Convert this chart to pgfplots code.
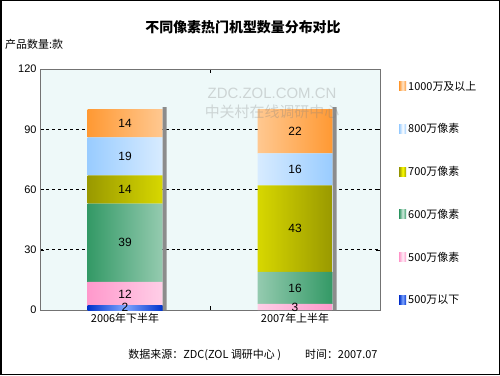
\documentclass[border=0pt]{standalone}
\usepackage{pgfplots}
\pgfplotsset{compat=1.18}
\usepackage{fontspec}
\setmainfont{Liberation Sans}
\newfontfamily\cjk{Noto Sans CJK SC}
\definecolor{cBlueE}{HTML}{0033CC}\definecolor{cBlueM}{HTML}{7FA6FF}
\definecolor{cPinkE}{HTML}{FF99CC}\definecolor{cPinkM}{HTML}{FFF0F8}
\definecolor{cGreenE}{HTML}{339966}\definecolor{cGreenM}{HTML}{D2EADE}
\definecolor{cYelE}{HTML}{999900}\definecolor{cYelM}{HTML}{FFFF00}
\definecolor{cLbE}{HTML}{99CCFF}\definecolor{cLbM}{HTML}{FFFFFF}
\definecolor{cOrE}{HTML}{FF9933}\definecolor{cOrM}{HTML}{FFE6CC}
\definecolor{bgc}{HTML}{EEF9F9}
\begin{document}
\begin{tikzpicture}[x=1bp,y=1bp]
\draw[black, line width=1.5bp, fill=white] (0.75,0.75) rectangle (499.25,374.25);
\node[font=\cjk\bfseries\fontsize{14}{16}\selectfont] at (243,348) {不同像素热门机型数量分布对比};
\node[anchor=west, font=\cjk\fontsize{11}{13}\selectfont, inner sep=0pt] at (5,331) {产品数量:款};
\node[font=\cjk\fontsize{11}{13}\selectfont] at (253,20) {数据来源：ZDC(ZOL 调研中心 )\hspace{2.2em}时间：2007.07};
\begin{axis}[
  at={(40bp,65bp)}, anchor=south west, scale only axis,
  width=340bp, height=241bp,
  ybar stacked, bar width=75bp,
  xmin=-0.5, xmax=1.5, ymin=0, ymax=120,
  ytick={0,30,60,90,120},
  xtick={0,1}, xticklabels={2006年下半年,2007年上半年},
  minor xtick={0.5},
  major x tick style={draw=none},
  minor tick length=4bp,
  x tick label style={font=\cjk\fontsize{11}{13}\selectfont},
  y tick label style={font=\fontsize{11}{13}\selectfont},
  /pgf/number format/assume math mode=true,
  ymajorgrids, grid style={dashed, black, line width=0.6pt},
  axis line style={black!55},
  tick style={black},
  axis background/.style={fill=bgc},
  reverse legend,
  legend cell align=left,
  legend style={at={(1,1)}, anchor=north west, xshift=16bp, yshift=-8bp,
    draw=none, fill=none, row sep=28bp,
    font=\cjk\fontsize{11}{13}\selectfont},
  legend image code/.code={\path[#1, draw=none] (0bp,-4.5bp) rectangle (7bp,4.5bp);},
]
\addplot[draw=none, left color=cBlueE, right color=cBlueE, middle color=cBlueM] coordinates {(0,2) (1,0)};
\addplot[draw=none, left color=cPinkE, right color=cPinkE, middle color=cPinkM] coordinates {(0,12) (1,3)};
\addplot[draw=none, left color=cGreenE, right color=cGreenE, middle color=cGreenM] coordinates {(0,39) (1,16)};
\addplot[draw=none, left color=cYelE, right color=cYelE, middle color=cYelM] coordinates {(0,14) (1,43)};
\addplot[draw=none, left color=cLbE, right color=cLbE, middle color=cLbM] coordinates {(0,19) (1,16)};
\addplot[draw=none, left color=cOrE, right color=cOrE, middle color=cOrM] coordinates {(0,14) (1,22)};
\legend{500万以下,500万像素,600万像素,700万像素,800万像素,1000万及以上}
\end{axis}
\begin{axis}[
  at={(40bp,65bp)}, anchor=south west, scale only axis,
  width=340bp, height=241bp,
  xmin=-0.5, xmax=1.5, ymin=0, ymax=120, hide axis,
  ybar, bar width=4bp, bar shift=39.5bp,
]
\addplot[draw=none, fill=black!45] coordinates {(0,101) (1,101)};
\end{axis}
\begin{axis}[
  at={(40bp,65bp)}, anchor=south west, scale only axis,
  width=340bp, height=241bp,
  xmin=-0.5, xmax=1.5, ymin=0, ymax=120, hide axis,
]
\addplot[only marks, mark=none, nodes near coords, point meta=explicit symbolic,
  nodes near coords style={anchor=center, font=\fontsize{12}{14}\selectfont}]
  table[meta=lab] {
x y lab
0 1.2 2
0 8 12
0 33.5 39
0 60 14
0 76.5 19
0 93 14
1 1.5 3
1 11 16
1 40.5 43
1 70 16
1 89 22
};
\end{axis}
\node[text=gray, opacity=0.3, font=\fontsize{15}{17}\selectfont] at (272,282) {ZDC.ZOL.COM.CN};
\node[text=gray, opacity=0.3, font=\cjk\fontsize{15}{17}\selectfont] at (272,263) {中关村在线调研中心};
\end{tikzpicture}
\end{document}
